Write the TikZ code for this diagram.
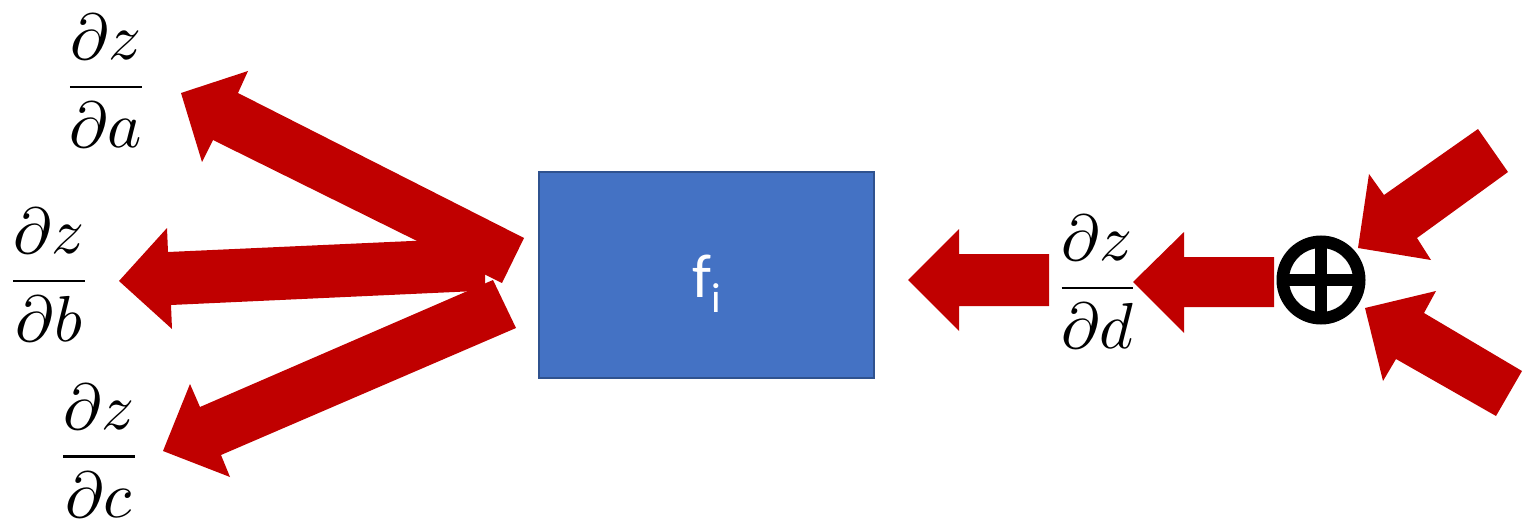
\documentclass[tikz,border=0pt]{standalone}
\usepackage{fontspec}
\newfontfamily\carlito{Carlito}
\definecolor{arrred}{HTML}{C00000}
\definecolor{boxblue}{HTML}{4472C4}
\definecolor{boxedge}{HTML}{2F528F}
\begin{document}
\begin{tikzpicture}[x=0.5pt,y=-0.5pt,
  blockarrow/.style={fill=arrred, draw=none},
  lbl/.style={anchor=base, inner sep=0pt, scale=3.25},
  fbox/.style={draw=boxedge, fill=boxblue, line width=1.2pt, minimum width=167.5pt, minimum height=103pt, inner sep=0pt},
  sumnode/.style={circle, draw=black, line width=6.25pt, minimum size=38.25pt, inner sep=0pt, outer sep=0pt},
]
\useasboundingbox (0,0) rectangle (1532,524);

% labels
\node[lbl] (la) at (106,103.25) {$\displaystyle\frac{\partial z}{\partial a}$};
\node[lbl] (lb) at (49,297.25) {$\displaystyle\frac{\partial z}{\partial b}$};
\node[lbl] (lc) at (99,473) {$\displaystyle\frac{\partial z}{\partial c}$};
\node[lbl] (ld) at (1097.5,304.25) {$\displaystyle\frac{\partial z}{\partial d}$};

% function box
\node[fbox] (f) at (706.5,275) {};
\node[anchor=base, text=white, inner sep=0pt, font=\carlito\fontsize{31}{37}\selectfont] (ftext) at (707,297) {f\raisebox{-7.5pt}{\fontsize{21}{25}\selectfont i}};

% sum symbol
\node[sumnode] (sum) at (1321,280) {};
\draw[line width=5.75pt] (sum.north) -- (sum.south);
\draw[line width=5.75pt] (sum.west) -- (sum.east);

% block arrows out of the box
\fill[blockarrow] (524,238) -- (238,93) -- (248,71) -- (181,93) -- (202,162) -- (213,140) -- (502,283) -- cycle;
\fill[blockarrow] (485,237.7) -- (168,252) -- (167,228) -- (119,281) -- (172,329) -- (171,305) -- (485,290.6) -- cycle;
\fill[blockarrow] (493,280) -- (200,407) -- (190,384) -- (163,451) -- (230,477) -- (221,455) -- (516,328) -- cycle;

% arrow into the box
\fill[blockarrow] (1049,254) -- (959,254) -- (959,229) -- (908,280) -- (959,331) -- (959,306) -- (1049,306) -- cycle;

% arrow from the sum
\fill[blockarrow] (1274,257) -- (1184,257) -- (1184,232) -- (1133,282) -- (1184,333) -- (1184,307) -- (1274,307) -- cycle;

% arrows into the sum
\fill[blockarrow] (1478,129) -- (1384,195) -- (1369,174) -- (1358,248) -- (1431,260) -- (1417,238) -- (1508,172) -- cycle;
\fill[blockarrow] (1522,371) -- (1424,313) -- (1436,291) -- (1365,308) -- (1383,381) -- (1396,359) -- (1496,416) -- cycle;
\end{tikzpicture}
\end{document}
